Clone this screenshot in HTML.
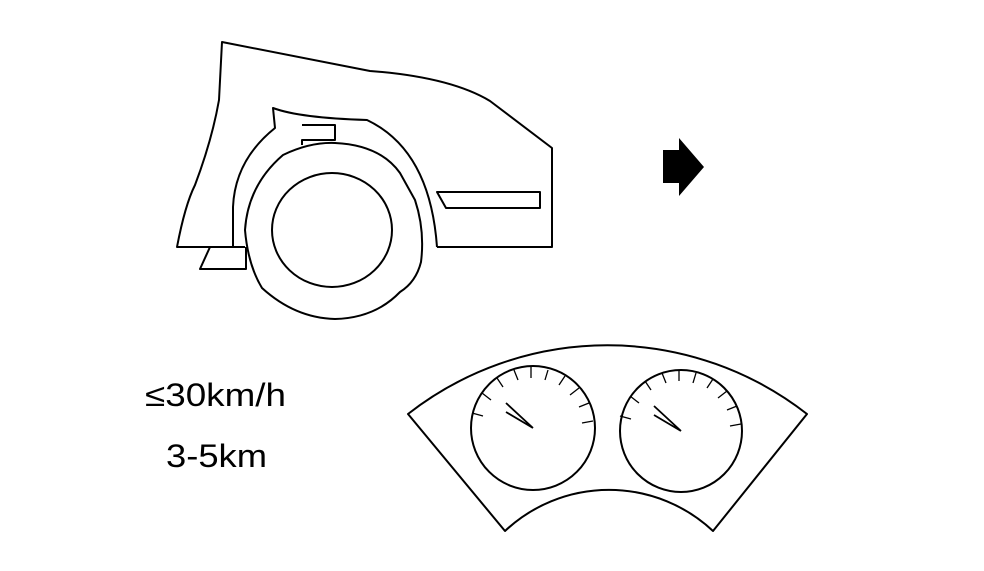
<!DOCTYPE html>
<html><head><meta charset="utf-8"><style>
html,body{margin:0;padding:0;background:#fff;width:984px;height:571px;overflow:hidden}
svg{display:block}
</style></head><body>
<svg width="984" height="571" viewBox="0 0 984 571" xmlns="http://www.w3.org/2000/svg">
<g fill="none" stroke="#000" stroke-width="2" stroke-linejoin="round">
<path d="M245,247 L177,247 Q185,205 195,185 Q212,140 219,100 L222,42 L370,71 Q450,77 490,101 L552,148 L552,247 L437,247"/>
<path d="M233,247 L233,207 Q235,160 275,128 L273,108 Q300,118 367,120 Q430,150 437,247"/>
<path d="M302,125 L335,125 L335,140 L302,140 L302,145"/>
<path d="M210,247 L200,269 L246,269 L246,247"/>
<path d="M437,192 L540,192 L540,208 L446,208 Z"/>
<path d="M283,155 Q310,142 335,143 Q380,145 400,173 L415,200 Q425,230 421,262 Q416,282 400,292 Q375,318 335,319 Q295,318 262,288 Q248,265 245,230 Q248,185 283,155 Z"/>
<ellipse cx="332" cy="230" rx="60" ry="57"/>
<path d="M408,414 A324,324 0 0 1 807,414 L713,531 A152,152 0 0 0 505,531 Z"/>
<circle cx="533" cy="428" r="62"/>
<circle cx="681" cy="431" r="61"/>
</g>
<g stroke="#000" stroke-width="1.3" fill="none">
<g transform="translate(533,428)">
<line x1="-61" y1="-15" x2="-50" y2="-12"/>
<line x1="-51" y1="-35" x2="-42" y2="-28"/>
<line x1="-36" y1="-50" x2="-30" y2="-41"/>
<line x1="-19" y1="-58" x2="-15" y2="-48"/>
<line x1="-2" y1="-61" x2="-2" y2="-50"/>
<line x1="15" y1="-58" x2="12" y2="-48"/>
<line x1="32" y1="-52" x2="26" y2="-43"/>
<line x1="46" y1="-40" x2="37" y2="-33"/>
<line x1="56" y1="-25" x2="46" y2="-21"/>
<line x1="60" y1="-7" x2="49" y2="-5"/>
<path d="M0,0 L-27,-25 M0,0 L-27,-16" stroke-width="1.8"/>
</g>
<g transform="translate(681,431)">
<line x1="-61" y1="-15" x2="-50" y2="-12"/>
<line x1="-51" y1="-35" x2="-42" y2="-28"/>
<line x1="-36" y1="-50" x2="-30" y2="-41"/>
<line x1="-19" y1="-58" x2="-15" y2="-48"/>
<line x1="-2" y1="-61" x2="-2" y2="-50"/>
<line x1="15" y1="-58" x2="12" y2="-48"/>
<line x1="32" y1="-52" x2="26" y2="-43"/>
<line x1="46" y1="-40" x2="37" y2="-33"/>
<line x1="56" y1="-25" x2="46" y2="-21"/>
<line x1="60" y1="-7" x2="49" y2="-5"/>
<path d="M0,0 L-27,-25 M0,0 L-27,-16" stroke-width="1.8"/>
</g>
</g>
<path d="M663,150 L679,150 L679,138 L704,167 L679,196 L679,183 L663,183 Z" fill="#000"/>
<text x="145" y="406" font-family="Liberation Sans, sans-serif" font-size="32" textLength="141" lengthAdjust="spacingAndGlyphs">≤30km/h</text>
<text x="166" y="467" font-family="Liberation Sans, sans-serif" font-size="32" textLength="101" lengthAdjust="spacingAndGlyphs">3-5km</text>
</svg>
</body></html>
